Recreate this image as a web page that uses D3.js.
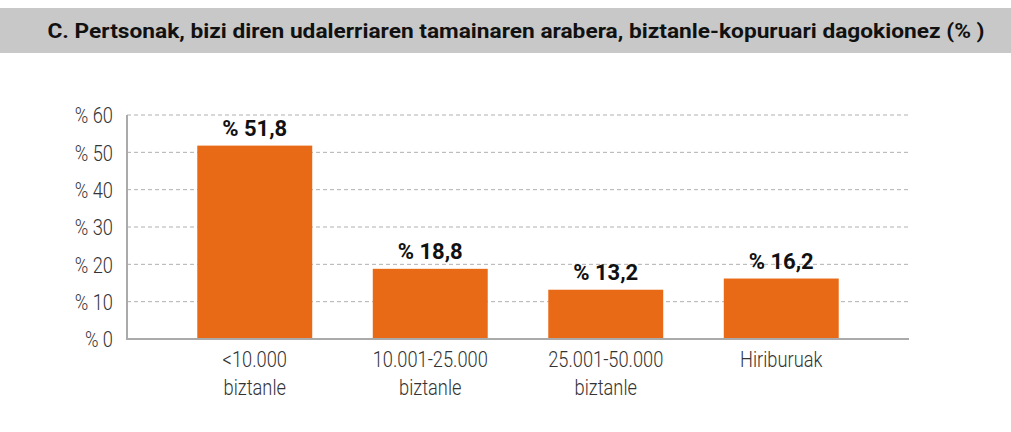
<!DOCTYPE html>
<html><head><meta charset="utf-8">
<script src="https://cdn.jsdelivr.net/npm/d3@7"></script>
<style>body{margin:0;background:#fff;} svg{display:block;}</style>
</head><body>
<svg id="c" width="1011" height="432"></svg>
<script>
const title = "C. Pertsonak, bizi diren udalerriaren tamainaren arabera, biztanle-kopuruari dagokionez (% )";
const categories = [["<10.000","biztanle"],["10.001-25.000","biztanle"],["25.001-50.000","biztanle"],["Hiriburuak"]];
const values = [51.8, 18.8, 13.2, 16.2];
const yTicks = [0,10,20,30,40,50,60];

const svg = d3.select("#c");
const font = "Roboto, 'Liberation Sans', sans-serif";
const sx = 0.83;

svg.append("rect").attr("x",0).attr("y",8).attr("width",1011).attr("height",45).attr("fill","#c8c8c8");
svg.append("text").attr("x",516).attr("y",38).attr("text-anchor","middle")
  .attr("font-family",font).attr("font-weight",700).attr("font-size",21).attr("fill","#111")
  .attr("textLength",937).attr("lengthAdjust","spacingAndGlyphs").text(title);

const x0 = 127, x1 = 909;
const y = d3.scaleLinear().domain([0,60]).range([339,115]);
const x = d3.scaleBand().domain(d3.range(values.length)).range([167,869]).paddingInner(0.345).paddingOuter(0.1725);

// grid
svg.append("g").selectAll("line").data(yTicks.filter(d=>d>0)).join("line")
  .attr("x1",x0).attr("x2",x1).attr("y1",d=>y(d)).attr("y2",d=>y(d))
  .attr("stroke","#b0b0b0").attr("stroke-width",1).attr("stroke-dasharray","4,3");

// y labels
const yAxis = d3.axisLeft(y).tickValues(yTicks).tickSize(0).tickPadding(14).tickFormat(d=>"% "+d);
const ga = svg.append("g").attr("transform",`translate(${x0},0)`).call(yAxis);
ga.select(".domain").remove();
ga.selectAll("text").attr("font-family",font).attr("font-weight",300).attr("font-size",22).attr("fill","#333")
  .attr("dy","0.35em").attr("transform",`scale(${sx},1)`).attr("x",-14/sx);

// bars
svg.append("g").selectAll("rect").data(values).join("rect")
  .attr("x",(d,i)=>x(i)).attr("width",x.bandwidth())
  .attr("y",d=>y(d)).attr("height",d=>y(0)-y(d)).attr("fill","#E96A16");

// value labels
svg.append("g").selectAll("text").data(values).join("text")
  .attr("x",(d,i)=>x(i)+x.bandwidth()/2).attr("y",d=>y(d)-10)
  .attr("text-anchor","middle").attr("font-family",font).attr("font-weight",700).attr("font-size",22).attr("fill","#111")
  .text(d=>"% "+d3.format(".1f")(d).replace(".",","));

// axes lines
svg.append("line").attr("x1",x0).attr("x2",x0).attr("y1",115).attr("y2",340).attr("stroke","#aaa").attr("stroke-width",2);
svg.append("line").attr("x1",x0-1).attr("x2",x1).attr("y1",339).attr("y2",339).attr("stroke","#aaa").attr("stroke-width",2);

// x labels
const xl = svg.append("g").selectAll("text").data(categories).join("text")
  .attr("text-anchor","middle").attr("font-family",font).attr("font-weight",300).attr("font-size",22).attr("fill","#333")
  .attr("transform",(d,i)=>`translate(${x(i)+x.bandwidth()/2},0) scale(${sx},1)`);
xl.selectAll("tspan").data(d=>d).join("tspan").attr("x",0).attr("y",(d,j)=>367+j*28).text(d=>d);
</script>
</body></html>
